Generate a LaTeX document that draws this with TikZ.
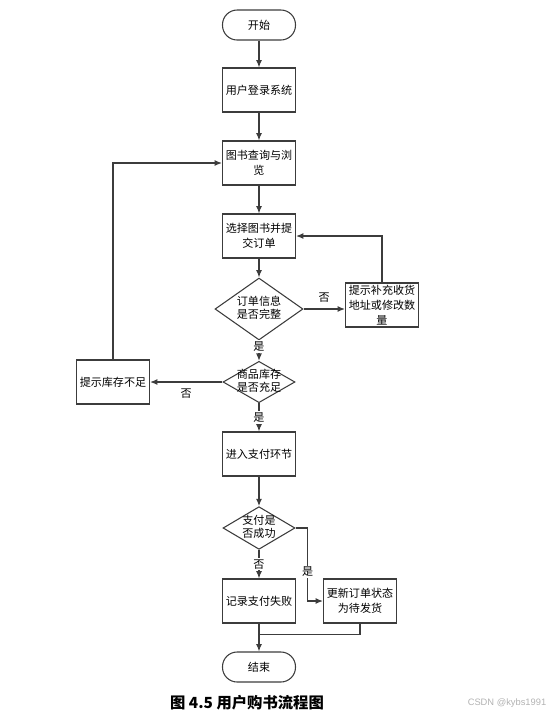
\documentclass[tikz,border=0pt]{standalone}
\usepackage{fontspec}
\usepackage{xcolor}
\usetikzlibrary{shapes.geometric, arrows.meta, positioning, calc}
\newfontfamily\cjk{Noto Sans CJK SC}
\newfontfamily\wmfont{Liberation Sans}
\definecolor{Line}{RGB}{60, 60, 60}
% text of a diamond, kept out of the shape's size
\newcommand{\dtext}[1]{\raisebox{-0.25em}[0pt][0pt]{\makebox[0pt]{\begin{tabular}{@{}c@{}}#1\end{tabular}}}}

\begin{document}
\begin{tikzpicture}[x=0.75pt, y=-0.75pt,
    every node/.style={font=\cjk\fontsize{8.3}{11.5}\selectfont},
    proc/.style={draw=Line, line width=0.8pt, rectangle, minimum width=54.75pt, minimum height=33pt, align=center, inner sep=1pt},
    term/.style={draw=Line, line width=0.8pt, rectangle, rounded corners=11pt, minimum width=54.75pt, minimum height=22.5pt},
    decision/.style={draw=Line, line width=0.8pt, diamond, inner sep=0pt, font=\cjk\fontsize{8.3}{10}\selectfont},
    flow/.style={draw=Line, line width=0.9pt, -{Latex[length=5.5pt,width=4.5pt]}},
    tag/.style={fill=white, inner sep=1pt}]
    \useasboundingbox (0,0) rectangle (546,719);

    % Main column
    \node[term] (start) at (259,25) {开始};
    \node[proc] (login) at (259,90) {用户登录系统};
    \node[proc] (browse) at (259,163) {图书查询与浏\\览};
    \node[proc] (order) at (259,236) {选择图书并提\\交订单};
    \node[decision, minimum width=66pt, minimum height=46.5pt] (check) at (259,309) {\dtext{订单信息\\是否完整}};
    \node[decision, minimum width=54pt, minimum height=31pt] (stock) at (259,382) {\dtext{商品库存\\是否充足}};
    \node[proc] (pay) at (259,454) {进入支付环节};
    \node[decision, minimum width=54pt, minimum height=32pt] (paid) at (259,528) {\dtext{支付是\\否成功}};
    \node[proc] (fail) at (259,601) {记录支付失败};
    \node[term] (end) at (259,667) {结束};

    % Side boxes
    \node[proc] (fix) at (382,305) {提示补充收货\\地址或修改数\\量};
    \node[proc] (short) at (113,382) {提示库存不足};
    \node[proc] (update) at (360,601) {更新订单状态\\为待发货};

    % Connectors
    \draw[flow] (start) -- (login);
    \draw[flow] (login) -- (browse);
    \draw[flow] (browse) -- (order);
    \draw[flow] (order) -- (check);
    \draw[flow] (check.east) -- node[above=1pt]{否} (fix.west |- check.east);
    \draw[flow] (fix.north) |- (order.east);
    \draw[flow] (check) -- node[tag, pos=0.3]{是} (stock);
    \draw[flow] (stock) -- node[below=1pt]{否} (short);
    \draw[flow] (short.north) |- (browse.west);
    \draw[flow] (stock) -- node[tag]{是} (pay);
    \draw[flow] (pay) -- (paid);
    \draw[flow] (paid) -- node[tag]{否} (fail);
    \draw[flow] (paid.east) -- ++(12,0) |- node[tag, pos=0.3]{是} (update.west);
    \draw[flow] (fail) -- (end);
    \draw[draw=Line, line width=0.9pt] (update.south) -- ++(0,11) -| (fail.south);

    % Caption
    \node[font=\cjk\bfseries\fontsize{11.5}{13}\selectfont] (caption) at (247,703) {图 4.5 用户购书流程图};
    \node[font=\wmfont\fontsize{7}{8}\selectfont, text=black!30] (mark) at (507,703) {CSDN @kybs1991};
\end{tikzpicture}
\end{document}
